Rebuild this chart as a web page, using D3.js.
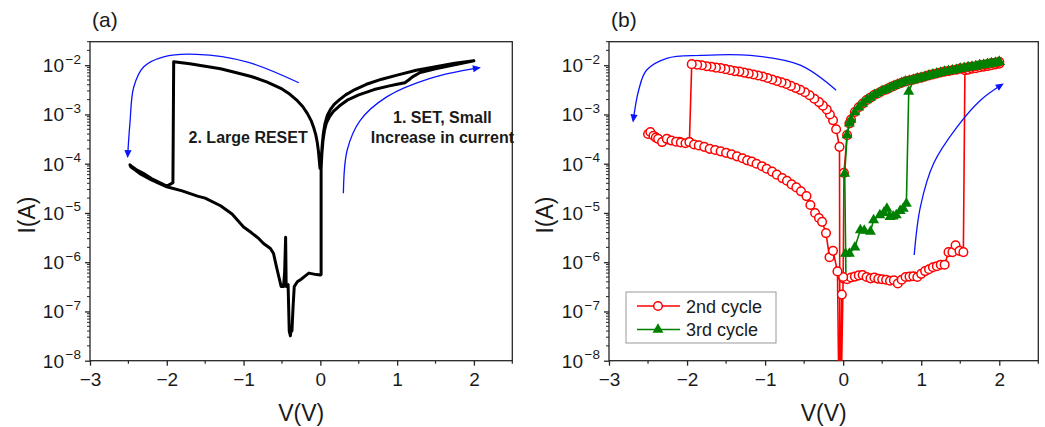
<!DOCTYPE html>
<html>
<head>
<meta charset="utf-8">
<script src="https://cdn.jsdelivr.net/npm/d3@7"></script>
<style>
  body { margin: 0; background: #fff; }
  svg { font-family: Arial, "Liberation Sans", sans-serif; }
</style>
</head>
<body>
<svg id="chart" width="1045" height="427"></svg>
<script>
// ---- axis settings ----
var vDomain = [-3, 2.5];
var iDomain = [1e-8, 3e-2];
var vTicks = [-3, -2, -1, 0, 1, 2];
var vMinor = [-2.5, -1.5, -0.5, 0.5, 1.5, 2.5];
var iDecades = [1e-8, 1e-7, 1e-6, 1e-5, 1e-4, 1e-3, 1e-2];
var iExponents = [-8, -7, -6, -5, -4, -3, -2];

// ---- panel (a): one I-V loop, [V, I] ----
var setSweepA = [[0.0, 5.5e-7], [0.01, 5.6e-7], [0.01, 7.9e-5], [0.02, 1.6e-4], [0.035, 3.0e-4],
  [0.055, 4.8e-4], [0.08, 6.8e-4], [0.12, 9.0e-4], [0.17, 1.15e-3], [0.25, 1.5e-3],
  [0.35, 1.95e-3], [0.5, 2.5e-3], [0.7, 3.2e-3], [0.9, 3.8e-3], [1.0, 4.1e-3], [1.1, 4.4e-3],
  [1.15, 5.0e-3], [1.2, 5.8e-3], [1.3, 7.1e-3], [1.5, 8.5e-3], [1.75, 1.02e-2], [2.0, 1.23e-2]];
var returnSweepA = [[2.0, 1.23e-2], [1.75, 1.1e-2], [1.5, 9.3e-3], [1.25, 7.9e-3], [1.0, 6.3e-3],
  [0.8, 5.2e-3], [0.6, 4.1e-3], [0.45, 3.2e-3], [0.33, 2.5e-3], [0.25, 2.0e-3], [0.18, 1.6e-3],
  [0.13, 1.25e-3], [0.09, 9.5e-4], [0.06, 6.5e-4], [0.04, 4.2e-4], [0.025, 2.5e-4],
  [0.015, 1.5e-4], [0.007, 1.0e-4], [0.003, 8.0e-5]];
var resetSweepA = [[-0.005, 8.0e-5], [-0.012, 1.1e-4], [-0.025, 1.8e-4], [-0.04, 2.7e-4],
  [-0.06, 3.9e-4], [-0.085, 5.3e-4], [-0.12, 7.5e-4], [-0.17, 1.05e-3], [-0.23, 1.45e-3],
  [-0.3, 1.9e-3], [-0.4, 2.6e-3], [-0.5, 3.3e-3], [-0.6, 3.9e-3], [-0.7, 4.6e-3],
  [-0.9, 5.9e-3], [-1.13, 7.3e-3], [-1.3, 8.5e-3], [-1.5, 9.5e-3], [-1.7, 1.07e-2],
  [-1.91, 1.17e-2], [-1.92, 4.1e-5], [-2.0, 3.5e-5], [-2.1, 4.2e-5], [-2.2, 5.0e-5],
  [-2.3, 6.3e-5], [-2.4, 7.6e-5], [-2.46, 8.9e-5], [-2.48, 9.5e-5]];
var backSweepA = [[-2.47, 8.7e-5], [-2.42, 7.6e-5], [-2.35, 6.3e-5], [-2.2, 4.7e-5], [-2.0, 3.4e-5],
  [-1.8, 2.8e-5], [-1.6, 2.2e-5], [-1.5, 2.0e-5], [-1.3, 1.4e-5], [-1.15, 9.5e-6], [-1.0, 5.2e-6],
  [-0.9, 4.0e-6], [-0.8, 3.0e-6], [-0.74, 2.4e-6], [-0.65, 1.9e-6], [-0.61, 1.5e-6],
  [-0.57, 7.9e-7], [-0.54, 5.0e-7], [-0.51, 3.2e-7], [-0.48, 3.2e-7], [-0.465, 6.3e-7],
  [-0.452, 3.2e-6], [-0.445, 3.2e-7], [-0.42, 3.5e-7], [-0.405, 4.0e-8], [-0.39, 3.2e-8],
  [-0.38, 4.5e-8], [-0.37, 4.0e-8], [-0.355, 1.26e-7], [-0.34, 3.2e-7], [-0.3, 4.0e-7],
  [-0.25, 4.5e-7], [-0.2, 5.2e-7], [-0.15, 6.0e-7], [-0.05, 5.6e-7], [0.0, 5.5e-7]];

// ---- panel (b): 2nd cycle (red circles) ----
var lowPos2 = [[0.0, 4.7e-7], [0.05, 4.5e-7], [0.1, 4.9e-7], [0.15, 5.1e-7], [0.2, 5.4e-7],
  [0.25, 5.5e-7], [0.3, 5.0e-7], [0.35, 4.7e-7], [0.4, 4.9e-7], [0.45, 4.6e-7], [0.5, 4.5e-7],
  [0.55, 4.4e-7], [0.6, 4.2e-7], [0.65, 4.3e-7], [0.7, 3.7e-7], [0.75, 4.4e-7], [0.8, 5.0e-7],
  [0.85, 5.1e-7], [0.9, 5.2e-7], [0.95, 5.0e-7], [1.0, 5.8e-7], [1.05, 6.6e-7], [1.1, 7.2e-7],
  [1.15, 7.9e-7], [1.2, 8.3e-7], [1.25, 8.9e-7], [1.3, 8.9e-7], [1.35, 1.6e-6], [1.4, 1.6e-6],
  [1.44, 2.2e-6], [1.49, 1.7e-6], [1.54, 1.6e-6]];
var highPos2 = [[1.56, 7.9e-3], [1.6, 8.1e-3], [1.65, 8.5e-3], [1.7, 8.7e-3], [1.75, 9.1e-3],
  [1.8, 9.3e-3], [1.85, 9.6e-3], [1.9, 1.0e-2], [1.95, 1.04e-2], [2.0, 1.07e-2]];
// on-state return sweep 2 V -> 0, shared by both cycles
var onReturn = [[2.0, 1.17e-2], [1.95, 1.12e-2], [1.9, 1.1e-2], [1.85, 1.05e-2], [1.8, 1.02e-2],
  [1.75, 1.0e-2], [1.7, 9.5e-3], [1.65, 9.3e-3], [1.6, 9.1e-3], [1.55, 8.7e-3], [1.5, 8.5e-3],
  [1.45, 8.1e-3], [1.4, 7.9e-3], [1.35, 7.6e-3], [1.3, 7.4e-3], [1.25, 7.1e-3], [1.2, 6.8e-3],
  [1.15, 6.5e-3], [1.1, 6.2e-3], [1.05, 5.9e-3], [1.0, 5.6e-3], [0.95, 5.4e-3], [0.9, 5.1e-3],
  [0.85, 4.9e-3], [0.8, 4.7e-3], [0.75, 4.4e-3], [0.7, 4.1e-3], [0.65, 3.8e-3], [0.6, 3.5e-3],
  [0.55, 3.2e-3], [0.5, 3.0e-3], [0.45, 2.7e-3], [0.4, 2.5e-3], [0.35, 2.2e-3], [0.3, 1.95e-3],
  [0.25, 1.66e-3], [0.2, 1.4e-3], [0.15, 1.12e-3], [0.1, 7.9e-4], [0.08, 6.6e-4], [0.05, 3.8e-4]];
var nearZero2 = [[0.01, 6.5e-5], [0.0, 5.0e-7], [-0.04, 1e-10]];
var highNeg2 = [[-0.047, 2.2e-4], [-0.09, 5.0e-4], [-0.13, 7.6e-4], [-0.17, 1.0e-3],
  [-0.21, 1.26e-3], [-0.26, 1.51e-3], [-0.31, 1.78e-3], [-0.37, 2.09e-3], [-0.43, 2.45e-3],
  [-0.49, 2.82e-3], [-0.55, 3.16e-3], [-0.61, 3.47e-3], [-0.67, 3.8e-3], [-0.73, 4.17e-3],
  [-0.79, 4.47e-3], [-0.85, 4.79e-3], [-0.91, 5.13e-3], [-0.97, 5.5e-3], [-1.03, 5.89e-3],
  [-1.09, 6.17e-3], [-1.15, 6.46e-3], [-1.21, 6.76e-3], [-1.27, 7.08e-3], [-1.33, 7.41e-3],
  [-1.39, 7.59e-3], [-1.45, 7.94e-3], [-1.51, 8.32e-3], [-1.57, 8.71e-3], [-1.63, 8.91e-3],
  [-1.69, 9.33e-3], [-1.75, 9.55e-3], [-1.81, 1.0e-2], [-1.87, 1.02e-2], [-1.94, 1.05e-2]];
var lowNeg2 = [[-1.97, 2.75e-4], [-2.1, 2.8e-4], [-2.25, 3.1e-4], [-2.4, 3.4e-4], [-2.5, 4.0e-4],
  [-2.47, 4.4e-4], [-2.43, 3.7e-4], [-2.4, 3.4e-4], [-2.37, 3.2e-4], [-2.32, 2.75e-4],
  [-2.26, 3.2e-4], [-2.2, 2.95e-4], [-2.14, 2.8e-4], [-2.08, 2.7e-4], [-2.02, 2.6e-4],
  [-1.97, 2.75e-4], [-1.91, 2.45e-4], [-1.85, 2.35e-4], [-1.78, 2.2e-4], [-1.71, 2.0e-4],
  [-1.64, 1.9e-4], [-1.57, 1.78e-4], [-1.5, 1.66e-4], [-1.43, 1.55e-4], [-1.36, 1.41e-4],
  [-1.29, 1.29e-4], [-1.23, 1.17e-4], [-1.17, 1.1e-4], [-1.11, 1.0e-4], [-1.04, 8.9e-5],
  [-0.98, 7.9e-5], [-0.91, 6.9e-5], [-0.85, 6.0e-5], [-0.78, 5.1e-5], [-0.72, 4.5e-5],
  [-0.66, 3.8e-5], [-0.6, 3.3e-5], [-0.54, 2.75e-5], [-0.47, 2.2e-5], [-0.42, 1.45e-5],
  [-0.36, 1.0e-5], [-0.31, 7.9e-6], [-0.27, 6.6e-6], [-0.22, 3.9e-6], [-0.175, 1.26e-6],
  [-0.13, 1.7e-6], [-0.073, 6.5e-7], [-0.045, 1e-10], [-0.017, 2.2e-7]];

// ---- panel (b): 3rd cycle (green triangles) ----
var lowPos3 = [[0.03, 1.5e-6], [0.08, 1.5e-6], [0.15, 2.0e-6], [0.22, 4.5e-6], [0.27, 4.4e-6],
  [0.35, 4.2e-6], [0.39, 7.2e-6], [0.47, 9.1e-6], [0.52, 1.0e-5], [0.56, 1.23e-5], [0.6, 8.3e-6],
  [0.64, 8.5e-6], [0.68, 9.1e-6], [0.73, 1.1e-5], [0.77, 1.23e-5], [0.81, 1.55e-5]];
var highPos3 = [[0.84, 2.9e-3], [0.9, 4.9e-3], [0.95, 5.2e-3], [1.0, 5.5e-3], [1.05, 5.8e-3],
  [1.1, 6.1e-3], [1.15, 6.4e-3], [1.2, 6.7e-3], [1.25, 7.0e-3], [1.3, 7.3e-3], [1.35, 7.6e-3],
  [1.4, 7.8e-3], [1.45, 8.1e-3], [1.5, 8.4e-3], [1.55, 8.7e-3], [1.6, 9.0e-3], [1.65, 9.3e-3],
  [1.7, 9.6e-3], [1.75, 9.9e-3], [1.8, 1.02e-2], [1.85, 1.05e-2], [1.9, 1.08e-2],
  [1.95, 1.12e-2], [2.0, 1.17e-2]];
var nearZero3 = [[0.02, 6.3e-5], [0.035, 6.0e-7]];

var loopA = setSweepA.concat(returnSweepA, resetSweepA, backSweepA);
var cycle2 = lowPos2.concat(highPos2, onReturn, nearZero2, highNeg2, lowNeg2);
var cycle3 = lowPos3.concat(highPos3, onReturn, nearZero3);

var svg = d3.select('#chart');
var plotTop = 41.7, plotBottom = 360.7;
var axisColor = '#262626';

function makePanel(left, right, tag, title, yTitleX) {
  var x = d3.scaleLinear().domain(vDomain).range([left, right]);
  var y = d3.scaleLog().domain(iDomain).range([plotBottom, plotTop]);
  var g = svg.append('g');

  svg.append('clipPath').attr('id', 'clip-' + tag)
    .append('rect')
    .attr('x', left).attr('y', plotTop)
    .attr('width', right - left).attr('height', plotBottom - plotTop);

  // x axis
  var xa = g.append('g')
    .attr('transform', 'translate(0,' + plotBottom + ')')
    .call(d3.axisBottom(x).tickValues(vTicks).tickSize(5).tickSizeOuter(0)
      .tickPadding(7).tickFormat(d3.format('d')));
  xa.selectAll('.tick line').attr('stroke', axisColor).attr('stroke-width', 1.3);
  xa.selectAll('text').attr('font-size', 19).attr('fill', '#1a1a1a')
    .attr('font-family', 'Arial, "Liberation Sans", sans-serif');
  xa.select('.domain').remove();
  g.selectAll('.xminor').data(vMinor).enter().append('line')
    .attr('x1', function (d) { return x(d); }).attr('x2', function (d) { return x(d); })
    .attr('y1', plotBottom).attr('y2', plotBottom + 3)
    .attr('stroke', axisColor).attr('stroke-width', 1.2);

  // y axis
  var ya = g.append('g')
    .attr('transform', 'translate(' + left + ',0)')
    .call(d3.axisLeft(y).tickValues(iDecades).tickSize(5).tickSizeOuter(0).tickFormat(''));
  ya.selectAll('.tick line').attr('stroke', axisColor).attr('stroke-width', 1.3);
  ya.select('.domain').remove();

  var minor = [];
  iExponents.forEach(function (e) {
    for (var k = 2; k <= 9; k++) {
      var v = k * Math.pow(10, e);
      if (v <= iDomain[1] * 1.001) minor.push(v);
    }
  });
  g.selectAll('.yminor').data(minor).enter().append('line')
    .attr('x1', left - 3).attr('x2', left)
    .attr('y1', function (d) { return y(d); }).attr('y2', function (d) { return y(d); })
    .attr('stroke', axisColor).attr('stroke-width', 1);

  var labels = g.selectAll('.ylab').data(iExponents).enter().append('g')
    .attr('transform', function (d) { return 'translate(' + left + ',' + y(Math.pow(10, d)) + ')'; });
  labels.append('text')
    .attr('x', -26).attr('y', 6.8)
    .attr('text-anchor', 'end').attr('font-size', 19).attr('fill', '#1a1a1a')
    .text('10');
  labels.append('text')
    .attr('x', -24.5).attr('y', -1.6)
    .attr('text-anchor', 'start').attr('font-size', 13.5).attr('fill', '#1a1a1a')
    .text(function (d) { return '\u2212' + Math.abs(d); });

  // frame
  g.append('rect')
    .attr('x', left).attr('y', plotTop)
    .attr('width', right - left).attr('height', plotBottom - plotTop)
    .attr('fill', 'none').attr('stroke', axisColor).attr('stroke-width', 1.3);

  // titles
  g.append('text')
    .attr('x', (left + right) / 2).attr('y', 421)
    .attr('text-anchor', 'middle').attr('font-size', 23).attr('fill', '#1a1a1a')
    .text('V(V)');
  g.append('text')
    .attr('transform', 'translate(' + yTitleX + ',215) rotate(-90)')
    .attr('text-anchor', 'middle').attr('font-size', 23).attr('fill', '#1a1a1a')
    .text('I(A)');
  g.append('text')
    .attr('x', left + 2).attr('y', 27)
    .attr('font-size', 21).attr('fill', '#1a1a1a')
    .text(title);

  var plot = g.append('g').attr('clip-path', 'url(#clip-' + tag + ')');
  return { x: x, y: y, g: g, plot: plot };
}

// arrow head
svg.append('defs').append('marker')
  .attr('id', 'head')
  .attr('viewBox', '0 -5 10 10')
  .attr('refX', 8).attr('refY', 0)
  .attr('markerUnits', 'userSpaceOnUse')
  .attr('markerWidth', 9).attr('markerHeight', 8)
  .attr('orient', 'auto')
  .append('path').attr('d', 'M0,-4.5L10,0L0,4.5Z').attr('fill', '#0a14ff');

function arrow(p, pts) {
  var line = d3.line()
    .x(function (d) { return p.x(d[0]); })
    .y(function (d) { return p.y(d[1]); })
    .curve(d3.curveCatmullRom.alpha(0.5));
  p.g.append('path')
    .attr('d', line(pts))
    .attr('fill', 'none').attr('stroke', '#0a14ff').attr('stroke-width', 1.3)
    .attr('marker-end', 'url(#head)');
}

// ---------------- panel (a) ----------------
var pa = makePanel(90, 512.3, 'a', '(a)', 35);
var lineA = d3.line()
  .x(function (d) { return pa.x(d[0]); })
  .y(function (d) { return pa.y(d[1]); });
pa.plot.append('path')
  .attr('d', lineA(loopA))
  .attr('fill', 'none').attr('stroke', '#000').attr('stroke-width', 3)
  .attr('stroke-linejoin', 'round').attr('stroke-linecap', 'round');

arrow(pa, [[-0.28, 4.4e-3], [-0.96, 1.17e-2], [-1.61, 1.66e-2], [-2.04, 1.48e-2],
  [-2.3, 9.3e-3], [-2.43, 3.6e-3], [-2.48, 6.6e-4], [-2.51, 1.4e-4]]);
arrow(pa, [[0.3, 2.5e-5], [0.35, 1.9e-4], [0.52, 7.6e-4], [0.87, 2.3e-3], [1.43, 5.4e-3],
  [2.07, 8.9e-3]]);

pa.g.append('text')
  .attr('x', pa.x(-0.94)).attr('y', pa.y(Math.pow(10, -3.58)))
  .attr('text-anchor', 'middle').attr('font-size', 16).attr('font-weight', 'bold')
  .attr('fill', '#1a1a1a').text('2. Large RESET');
pa.g.append('text')
  .attr('x', pa.x(1.59)).attr('y', pa.y(Math.pow(10, -3.17)))
  .attr('text-anchor', 'middle').attr('font-size', 16).attr('font-weight', 'bold')
  .attr('fill', '#1a1a1a').text('1. SET, Small');
pa.g.append('text')
  .attr('x', pa.x(1.59)).attr('y', pa.y(Math.pow(10, -3.58)))
  .attr('text-anchor', 'middle').attr('font-size', 16).attr('font-weight', 'bold')
  .attr('fill', '#1a1a1a').text('Increase in current');

// ---------------- panel (b) ----------------
var pb = makePanel(609, 1038.3, 'b', '(b)', 553);
var lineB = d3.line()
  .x(function (d) { return pb.x(d[0]); })
  .y(function (d) { return pb.y(d[1]); });
var red = '#ff0000', green = '#008000';
var tri = d3.symbol().type(d3.symbolTriangle).size(52);

pb.plot.append('path')
  .attr('d', lineB(cycle2))
  .attr('fill', 'none').attr('stroke', red).attr('stroke-width', 1.6);
pb.plot.selectAll('.c2').data(cycle2).enter().append('circle')
  .attr('cx', function (d) { return pb.x(d[0]); })
  .attr('cy', function (d) { return pb.y(d[1]); })
  .attr('r', 4.3)
  .attr('fill', '#fff').attr('stroke', red).attr('stroke-width', 1.5);

pb.plot.append('path')
  .attr('d', lineB(cycle3))
  .attr('fill', 'none').attr('stroke', green).attr('stroke-width', 1.6);
pb.plot.selectAll('.c3').data(cycle3.slice(0, cycle3.length - 1)).enter().append('path')
  .attr('d', tri)
  .attr('transform', function (d) { return 'translate(' + pb.x(d[0]) + ',' + pb.y(d[1]) + ')'; })
  .attr('fill', green);

arrow(pb, [[-0.09, 3.1e-3], [-0.55, 1.0e-2], [-1.19, 1.58e-2], [-1.83, 1.58e-2],
  [-2.26, 1.38e-2], [-2.52, 7.9e-3], [-2.62, 3.1e-3], [-2.69, 7.4e-4]]);
arrow(pb, [[0.91, 1.4e-6], [0.99, 1.35e-5], [1.16, 1.02e-4], [1.46, 5.6e-4], [1.76, 1.95e-3],
  [2.04, 4.1e-3]]);

// legend
var leg = pb.g.append('g');
leg.append('rect')
  .attr('x', 626).attr('y', 292).attr('width', 150).attr('height', 51)
  .attr('fill', '#fff').attr('stroke', '#999').attr('stroke-width', 1);
var legendRows = [
  { label: '2nd cycle', color: red, y: 306, shape: 'circle' },
  { label: '3rd cycle', color: green, y: 329.5, shape: 'triangle' }
];
legendRows.forEach(function (r) {
  leg.append('line')
    .attr('x1', 637).attr('x2', 680).attr('y1', r.y).attr('y2', r.y)
    .attr('stroke', r.color).attr('stroke-width', 1.6);
  if (r.shape === 'circle') {
    leg.append('circle').attr('cx', 658).attr('cy', r.y).attr('r', 4.3)
      .attr('fill', '#fff').attr('stroke', r.color).attr('stroke-width', 1.5);
  } else {
    leg.append('path').attr('d', tri)
      .attr('transform', 'translate(658,' + r.y + ')').attr('fill', r.color);
  }
  leg.append('text')
    .attr('x', 686).attr('y', r.y + 6.5)
    .attr('font-size', 18).attr('fill', '#1a1a1a')
    .text(r.label);
});
</script>
</body>
</html>
